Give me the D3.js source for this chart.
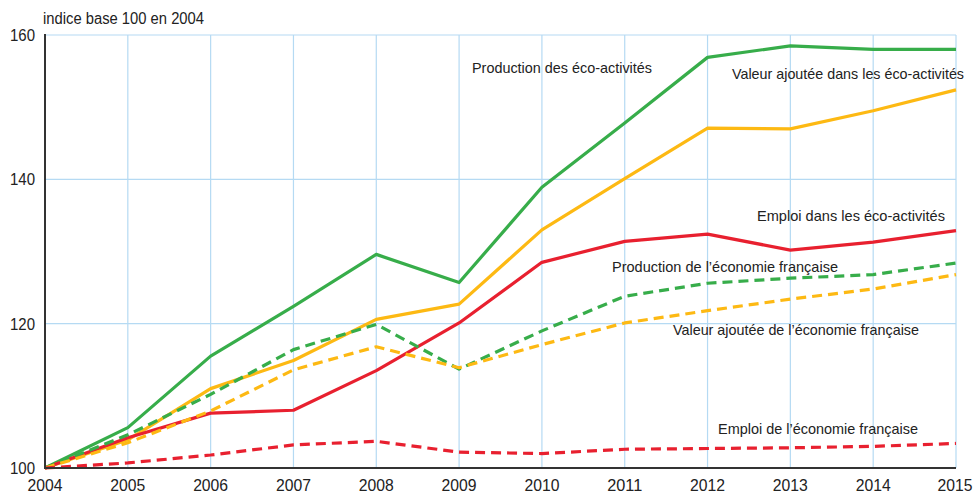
<!DOCTYPE html>
<html>
<head>
<meta charset="utf-8">
<script src="https://cdn.jsdelivr.net/npm/d3@7"></script>
<style>
  body { margin: 0; background: #fff; }
  text { font-family: "Liberation Sans", Arial, sans-serif; fill: #222; }
</style>
</head>
<body>
<div id="chart"></div>
<script>
var years = [2004, 2005, 2006, 2007, 2008, 2009, 2010, 2011, 2012, 2013, 2014, 2015];
var yTicks = [100, 120, 140, 160];

// indices, base 100 en 2004
var prodEco   = [100, 105.6, 115.5, 122.4, 129.6, 125.7, 138.9, 147.8, 156.9, 158.5, 158.0, 158.0];
var vaEco     = [100, 103.9, 111.0, 114.9, 120.6, 122.7, 133.0, 140.1, 147.1, 147.0, 149.5, 152.4];
var emploiEco = [100, 104.2, 107.6, 108.0, 113.5, 120.1, 128.5, 131.4, 132.4, 130.2, 131.3, 132.9];
var prodFr    = [100, 104.6, 110.2, 116.4, 119.9, 113.7, 119.0, 123.8, 125.6, 126.3, 126.8, 128.4];
var vaFr      = [100, 103.5, 107.9, 113.6, 116.8, 113.9, 117.1, 120.1, 121.8, 123.4, 124.8, 126.8];
var emploiFr  = [100, 100.7, 101.8, 103.2, 103.7, 102.2, 102.0, 102.6, 102.7, 102.8, 103.0, 103.4];

var green = "#37ad4a", yellow = "#fdb913", red = "#e8202f";

// label position and width (condensed look)
var series = [
  {name: "Production des éco-activités", values: prodEco, color: green, dash: null, lx: 472, ly: 73, lw: 180},
  {name: "Valeur ajoutée dans les éco-activités", values: vaEco, color: yellow, dash: null, lx: 732, ly: 79, lw: 232},
  {name: "Emploi dans les éco-activités", values: emploiEco, color: red, dash: null, lx: 757, ly: 221, lw: 188},
  {name: "Production de l’économie française", values: prodFr, color: green, dash: "10,6", lx: 612, ly: 272, lw: 226},
  {name: "Valeur ajoutée de l’économie française", values: vaFr, color: yellow, dash: "10,6", lx: 673, ly: 335, lw: 246},
  {name: "Emploi de l’économie française", values: emploiFr, color: red, dash: "10,6", lx: 718, ly: 434, lw: 200}
];

var w = 974, h = 496;
var margin = {top: 35, right: 18, bottom: 28, left: 45};

var svg = d3.select("#chart").append("svg")
  .attr("width", w)
  .attr("height", h);

var x = d3.scaleLinear()
  .domain([2004, 2015])
  .range([margin.left, w - margin.right]);
var y = d3.scaleLinear()
  .domain([100, 160])
  .range([h - margin.bottom, margin.top]);

// grid
svg.append("g")
  .selectAll("line")
  .data(years.slice(1))
  .enter().append("line")
    .attr("x1", d => x(d)).attr("x2", d => x(d))
    .attr("y1", y(160)).attr("y2", y(100))
    .attr("stroke", "#b5daf3").attr("stroke-width", 1.2);
svg.append("g")
  .selectAll("line")
  .data(yTicks.slice(1))
  .enter().append("line")
    .attr("x1", x(2004)).attr("x2", x(2015))
    .attr("y1", d => y(d)).attr("y2", d => y(d))
    .attr("stroke", "#b5daf3").attr("stroke-width", 1.2);

// lines
var line = d3.line()
  .x((d, i) => x(years[i]))
  .y(d => y(d));

var lineG = svg.append("g")
  .attr("fill", "none")
  .attr("stroke-width", 3.2)
  .attr("stroke-linejoin", "round");

lineG.selectAll("path")
  .data(series)
  .enter().append("path")
    .attr("d", d => line(d.values))
    .attr("stroke", d => d.color)
    .attr("stroke-dasharray", d => d.dash);

// axes
svg.append("line")
  .attr("x1", x(2004)).attr("x2", x(2004))
  .attr("y1", y(160) - 1).attr("y2", y(100) + 1)
  .attr("stroke", "#333").attr("stroke-width", 2);
svg.append("line")
  .attr("x1", x(2004)).attr("x2", x(2015))
  .attr("y1", y(100)).attr("y2", y(100))
  .attr("stroke", "#333").attr("stroke-width", 2);

// tick labels
svg.append("g")
  .selectAll("text")
  .data(yTicks)
  .enter().append("text")
    .attr("x", 35)
    .attr("y", d => y(d) + 6)
    .attr("text-anchor", "end")
    .attr("font-size", 16.5)
    .attr("textLength", 25)
    .attr("lengthAdjust", "spacingAndGlyphs")
    .text(d => d);

svg.append("g")
  .selectAll("text")
  .data(years)
  .enter().append("text")
    .attr("x", d => Math.min(x(d), w - 19))
    .attr("y", 491)
    .attr("text-anchor", "middle")
    .attr("font-size", 17)
    .attr("textLength", 35)
    .attr("lengthAdjust", "spacingAndGlyphs")
    .text(d => d);

svg.append("text")
  .attr("x", 43)
  .attr("y", 24)
  .attr("font-size", 16)
  .attr("textLength", 161)
  .attr("lengthAdjust", "spacingAndGlyphs")
  .text("indice base 100 en 2004");

// series labels
svg.append("g")
  .selectAll("text")
  .data(series)
  .enter().append("text")
    .attr("x", d => d.lx)
    .attr("y", d => d.ly)
    .attr("font-size", 15)
    .attr("textLength", d => d.lw)
    .attr("lengthAdjust", "spacingAndGlyphs")
    .text(d => d.name);
</script>
</body>
</html>
